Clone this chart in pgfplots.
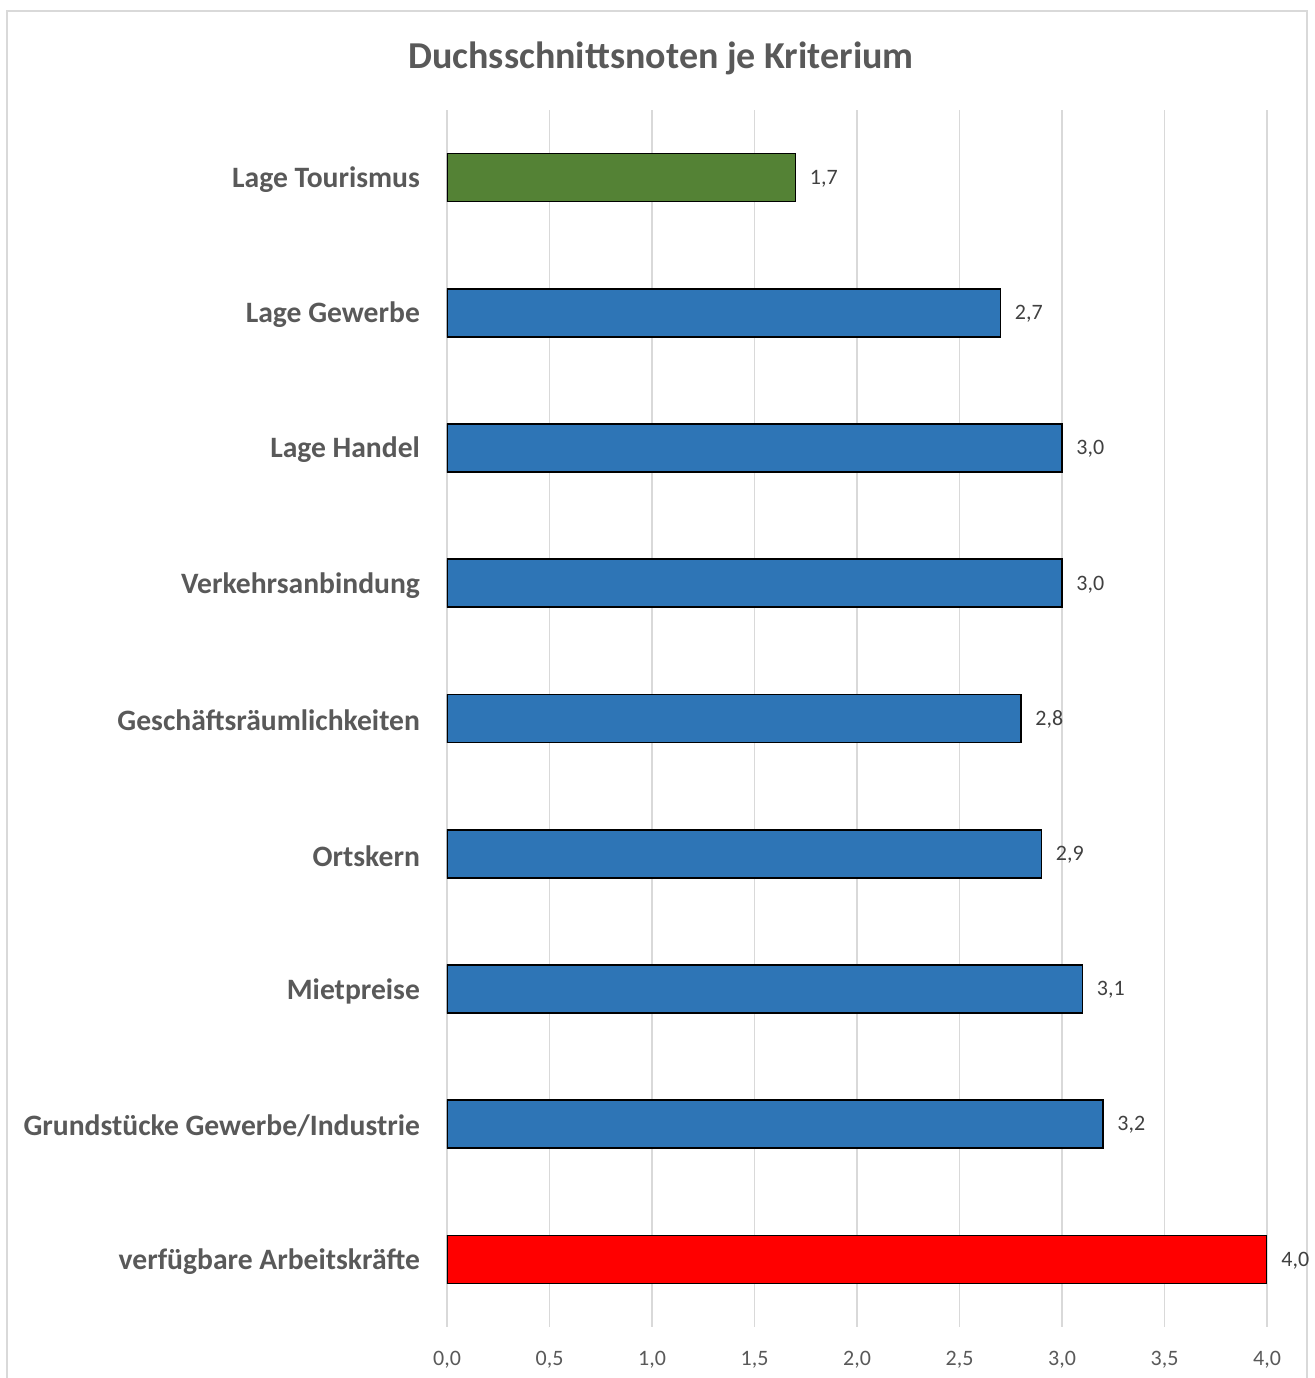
\documentclass[border=0pt]{standalone}
\usepackage{fontspec}
\setmainfont{Carlito}
\usepackage{pgfplots}
\pgfplotsset{compat=1.18}
\definecolor{txtgray}{HTML}{595959}
\definecolor{lblgray}{HTML}{404040}
\definecolor{gridgray}{HTML}{D9D9D9}
\definecolor{bargreen}{HTML}{548235}
\definecolor{barblue}{HTML}{2E75B6}
\definecolor{barred}{HTML}{FF0000}
\begin{document}
\begin{tikzpicture}
\useasboundingbox (0,0) rectangle (657pt,689pt);
\draw[gridgray, line width=1pt] (3.5pt,-10pt) rectangle (653.5pt,683.5pt);
\node[font=\fontsize{19}{22}\selectfont\bfseries, text=txtgray] at (330.5pt,660pt) {Duchsschnittsnoten je Kriterium};
\begin{axis}[
    at={(223.5pt,25.5pt)}, anchor=south west,
    scale only axis,
    width=410pt, height=608.5pt,
    xbar, bar width=24pt,
    xmin=0, xmax=4,
    ymin=-0.5, ymax=8.5,
    y dir=reverse,
    ytick={0,1,2,3,4,5,6,7,8},
    yticklabels={Lage Tourismus, Lage Gewerbe, Lage Handel, Verkehrsanbindung, Geschäftsräumlichkeiten, Ortskern, Mietpreise, Grundstücke Gewerbe/Industrie, verfügbare Arbeitskräfte},
    yticklabel style={font=\fontsize{14.8}{17}\selectfont\bfseries, text=txtgray, xshift=-10pt, yshift=-1pt},
    xtick={0,0.5,1,1.5,2,2.5,3,3.5,4},
    xticklabel style={font=\fontsize{11}{13}\selectfont, text=txtgray, yshift=-8.5pt},
    /pgf/number format/assume math mode=true,
    xticklabel={\pgfmathprintnumber[fixed, fixed zerofill, precision=1, use comma]{\tick}},
    xmajorgrids, grid style={gridgray, line width=0.8pt},
    axis line style={draw=none},
    major tick length=0pt,
    nodes near coords,
    nodes near coords style={font=\fontsize{11}{13}\selectfont, text=lblgray, xshift=3.5pt, yshift=-0.5pt,
        /pgf/number format/.cd, fixed, fixed zerofill, precision=1, use comma, assume math mode=true},
]
\addplot[fill=bargreen, draw=black, line width=0.8pt, bar shift=0pt] coordinates {(1.7,0)};
\addplot[fill=barblue, draw=black, line width=0.8pt, bar shift=0pt] coordinates {(2.7,1) (3.0,2) (3.0,3) (2.8,4) (2.9,5) (3.1,6) (3.2,7)};
\addplot[fill=barred, draw=black, line width=0.8pt, bar shift=0pt] coordinates {(4.0,8)};
\end{axis}
\end{tikzpicture}
\end{document}
